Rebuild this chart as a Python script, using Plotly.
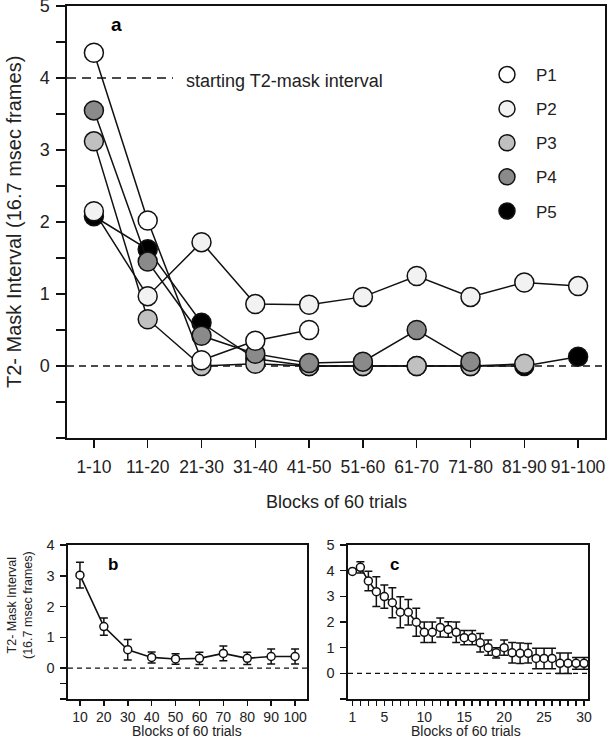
import plotly.graph_objects as go

# ---------------- data ----------------
blocks_a = ["1-10", "11-20", "21-30", "31-40", "41-50", "51-60", "61-70", "71-80", "81-90", "91-100"]
p1 = [4.35, 2.02, 0.08, 0.35, 0.50, None, None, None, None, None]
p2 = [2.15, 0.97, 1.72, 0.86, 0.85, 0.96, 1.25, 0.96, 1.16, 1.11]
p3 = [3.12, 0.65, 0.00, 0.03, 0.00, 0.00, 0.00, 0.00, 0.03, None]
p4 = [3.55, 1.45, 0.42, 0.17, 0.04, 0.06, 0.50, 0.06, None, None]
p5 = [2.08, 1.62, 0.60, 0.10, 0.00, 0.00, 0.00, 0.00, 0.00, 0.13]
participants = ["P1", "P2", "P3", "P4", "P5"]
part_colors = ["#ffffff", "#f2f2f2", "#c0c0c0", "#8a8a8a", "#000000"]

blocks_b = [10, 20, 30, 40, 50, 60, 70, 80, 90, 100]
mean_b = [3.02, 1.35, 0.60, 0.35, 0.30, 0.32, 0.48, 0.32, 0.38, 0.38]
err_b = [0.42, 0.28, 0.33, 0.18, 0.17, 0.20, 0.24, 0.20, 0.24, 0.24]

blocks_c = list(range(1, 31))
mean_c = [3.97, 4.13, 3.60, 3.18, 2.99, 2.75, 2.38, 2.38, 1.99, 1.60,
          1.60, 1.79, 1.71, 1.60, 1.39, 1.39, 1.19, 1.00, 0.80, 1.00,
          0.80, 0.78, 0.78, 0.58, 0.58, 0.58, 0.39, 0.39, 0.39, 0.39]
err_c = [0.00, 0.22, 0.38, 0.58, 0.45, 0.58, 0.60, 0.50, 0.55, 0.40,
         0.40, 0.37, 0.30, 0.40, 0.28, 0.28, 0.36, 0.30, 0.20, 0.30,
         0.40, 0.40, 0.38, 0.40, 0.40, 0.40, 0.40, 0.40, 0.23, 0.23]

W, H = 609, 740
FONT = "Liberation Sans, Arial, sans-serif"
INK = "#111111"

fig = go.Figure()

# ---------------- panel a ----------------
series_a = {"P1": p1, "P2": p2, "P3": p3, "P4": p4, "P5": p5}
draw_order = ["P5", "P3", "P4", "P2", "P1"]
xa = list(range(len(blocks_a)))
for name in draw_order:
    col = part_colors[participants.index(name)]
    fig.add_trace(go.Scatter(
        x=xa, y=series_a[name], mode="lines+markers", xaxis="x", yaxis="y",
        line=dict(color=INK, width=1.5), connectgaps=False,
        marker=dict(size=19, color=col, line=dict(color=INK, width=1.5)),
        showlegend=False, hoverinfo="skip"))

# legend entries
for name, col in zip(participants, part_colors):
    fig.add_trace(go.Scatter(
        x=[None], y=[None], mode="markers", name=name, xaxis="x", yaxis="y",
        legendgroup=name,
        marker=dict(size=20, color=col, line=dict(color=INK, width=1.5))))

# ---------------- panel b ----------------
fig.add_trace(go.Scatter(
    x=blocks_b, y=mean_b, mode="lines+markers", xaxis="x2", yaxis="y2",
    line=dict(color=INK, width=1.6),
    marker=dict(size=8, color="white", line=dict(color=INK, width=1.5)),
    error_y=dict(type="data", array=err_b, color=INK, thickness=1.5, width=4),
    showlegend=False, hoverinfo="skip"))

# ---------------- panel c ----------------
fig.add_trace(go.Scatter(
    x=blocks_c, y=mean_c, mode="lines+markers", xaxis="x3", yaxis="y3",
    line=dict(color=INK, width=1.6),
    marker=dict(size=8, color="white", line=dict(color=INK, width=1.5)),
    error_y=dict(type="data", array=err_c, color=INK, thickness=1.5, width=4),
    showlegend=False, hoverinfo="skip"))


def px_x(v):
    return v / W


def px_y(v):
    return 1 - v / H


axis_common = dict(showline=True, linecolor=INK, linewidth=1.6, mirror=True,
                   ticks="outside", tickcolor=INK, tickwidth=1.5,
                   showgrid=False, zeroline=False, fixedrange=True,
                   automargin=False, ticklabeloverflow="allow")

ya_vals = [v / 2 for v in range(-2, 11)]
ya_text = [str(int(v)) if (v >= 0 and v == int(v)) else "" for v in ya_vals]

yb_vals = [-1, -0.5, 0, 1, 2, 3, 4]
yb_text = ["", "", "0", "1", "2", "3", "4"]

yc_vals = [-1, 0, 1, 2, 3, 4, 5]
yc_text = ["", "0", "1", "2", "3", "4", "5"]

xc_text = [str(v) if v in (1, 5, 10, 15, 20, 25, 30) else "" for v in blocks_c]

fig.update_layout(
    template="none",
    width=W, height=H, autosize=False,
    margin=dict(l=0, r=0, t=0, b=0, pad=0),
    paper_bgcolor="white", plot_bgcolor="white",
    font=dict(family=FONT, color="#222222"),
    xaxis=dict(axis_common, domain=[px_x(67), px_x(605)], range=[-0.5, 9.5],
               tickvals=xa, ticktext=blocks_a, ticklen=8,
               tickfont=dict(size=17.5), ticklabelstandoff=4, anchor="y"),
    yaxis=dict(axis_common, domain=[px_y(438), px_y(6)], range=[-1, 5],
               tickvals=ya_vals, ticktext=ya_text, ticklen=9,
               tickfont=dict(size=18), ticklabelstandoff=3, anchor="x"),
    xaxis2=dict(axis_common, domain=[px_x(68), px_x(307)], range=[5, 105],
                tickvals=blocks_b, ticktext=[str(v) for v in blocks_b], ticklen=5,
                tickfont=dict(size=14), ticklabelstandoff=0, anchor="y2"),
    yaxis2=dict(axis_common, domain=[px_y(699), px_y(545)], range=[-1, 4],
                tickvals=yb_vals, ticktext=yb_text, ticklen=6,
                tickfont=dict(size=14.5), ticklabelstandoff=3, anchor="x2"),
    xaxis3=dict(axis_common, domain=[px_x(348), px_x(588)], range=[0.45, 30.5],
                tickvals=blocks_c, ticktext=xc_text, ticklen=5,
                tickfont=dict(size=14), ticklabelstandoff=0, anchor="y3"),
    yaxis3=dict(axis_common, domain=[px_y(699), px_y(545)], range=[-1, 5],
                tickvals=yc_vals, ticktext=yc_text, ticklen=6,
                tickfont=dict(size=14.5), ticklabelstandoff=3, anchor="x3"),
    legend=dict(x=px_x(478), y=px_y(57), xanchor="left", yanchor="top",
                bgcolor="rgba(0,0,0,0)", borderwidth=0, itemwidth=48,
                font=dict(size=17, color="#222222"), tracegroupgap=9,
                itemsizing="trace"),
    showlegend=True,
)

shapes = [
    dict(type="line", xref="x domain", yref="y", x0=0, x1=1, y0=0, y1=0,
         line=dict(color=INK, width=1.3, dash="7px,5px"), layer="below"),
    dict(type="line", xref="x domain", yref="y", x0=0, x1=(173 - 67) / (605 - 67), y0=4, y1=4,
         line=dict(color=INK, width=1.5, dash="9px,6px"), layer="below"),
    dict(type="line", xref="x2 domain", yref="y2", x0=0, x1=1, y0=0, y1=0,
         line=dict(color=INK, width=1.2, dash="5px,4px"), layer="below"),
    dict(type="line", xref="x3 domain", yref="y3", x0=0, x1=1, y0=0, y1=0,
         line=dict(color=INK, width=1.2, dash="5px,4px"), layer="below"),
]
fig.update_layout(shapes=shapes)


def note(text, x, y, size, angle=0, anchor="center", color="#222222"):
    return dict(text=text, x=px_x(x), y=px_y(y), xref="paper", yref="paper",
                textangle=angle, showarrow=False, xanchor=anchor, yanchor="middle",
                font=dict(size=size, color=color))


ann = [
    note("T2- Mask Interval (16.7 msec frames)", 14, 222, 20, angle=-90),
    note("Blocks of 60 trials", 336, 502, 18),
    note("starting T2-mask interval", 184, 81, 18, anchor="left"),
    note("<b>a</b>", 117, 24, 19, color="#000000"),
    note("T2- Mask Interval<br>(16.7 msec frames)", 20, 605, 12.5, angle=-90),
    note("Blocks of 60 trials", 187, 731, 14),
    note("Blocks of 60 trials", 466, 731, 14),
    note("<b>b</b>", 113, 564, 17, color="#000000"),
    note("<b>c</b>", 394, 564, 17, color="#000000"),
]
fig.update_layout(annotations=ann)

fig.write_html("out.html", config={"displayModeBar": False, "staticPlot": True},
               post_script="document.body.style.margin='0';document.body.style.overflow='hidden';")
